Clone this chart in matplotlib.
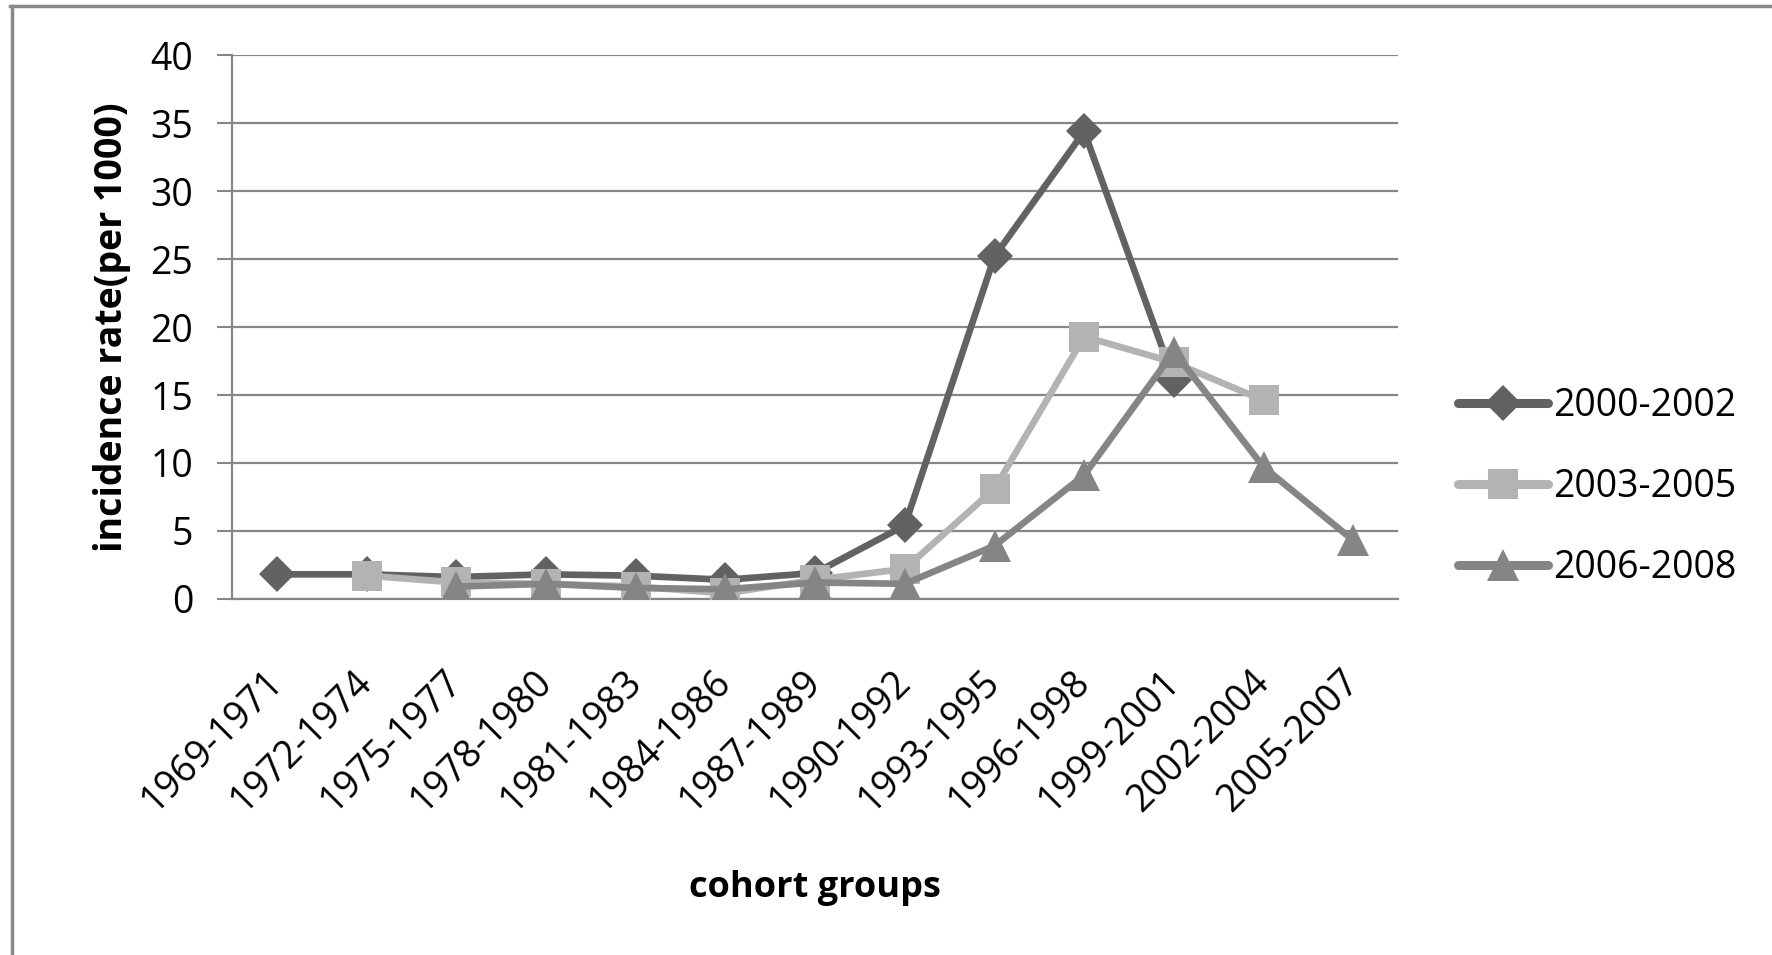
import matplotlib.pyplot as plt
import matplotlib.lines as mlines
import numpy as np

plt.rcParams['font.family'] = ['Open Sans', 'DejaVu Sans']

# cohort groups on the x axis
cohorts = ["1969-1971", "1972-1974", "1975-1977", "1978-1980", "1981-1983",
           "1984-1986", "1987-1989", "1990-1992", "1993-1995", "1996-1998",
           "1999-2001", "2002-2004", "2005-2007"]

# incidence rate (per 1000) per diagnosis period, None where no value
rate_2000_2002 = [1.8, 1.8, 1.6, 1.8, 1.7, 1.4, 1.9, 5.4, 25.2, 34.4, 16.1, None, None]
rate_2003_2005 = [None, 1.7, 1.2, 1.1, 0.9, 0.4, 1.4, 2.2, 8.1, 19.3, 17.4, 14.6, None]
rate_2006_2008 = [None, None, 0.9, 1.1, 0.8, 0.7, 1.2, 1.1, 3.9, 9.1, 18.2, 9.7, 4.3]

series_labels = ["2000-2002", "2003-2005", "2006-2008"]


def to_array(vals):
    return np.array([np.nan if v is None else v for v in vals], dtype=float)


fig = plt.figure(figsize=(17.72, 9.55), dpi=100)
ax = fig.add_axes([0.131, 0.373, 0.658, 0.569])

x = np.arange(len(cohorts))
styles = [
    dict(color="#626262", marker="D", ms=18),
    dict(color="#b3b3b3", marker="s", ms=21),
    dict(color="#858585", marker="^", ms=23),
]
handles = []
for vals, label, st in zip([rate_2000_2002, rate_2003_2005, rate_2006_2008], series_labels, styles):
    line, = ax.plot(x, to_array(vals), color=st["color"], lw=4.8, marker=st["marker"],
                    ms=st["ms"], mfc=st["color"], mec=st["color"], mew=0,
                    solid_joinstyle="miter", label=label, zorder=3)
    handles.append(line)

ax.set_xlim(-0.5, len(cohorts) - 0.5)
ax.set_ylim(0, 40)
ax.set_yticks(np.arange(0, 41, 5))
ax.set_xticks(x)
ax.set_xticklabels(cohorts, rotation=45, ha="right", va="center",
                   rotation_mode="anchor", fontsize=27)
ax.tick_params(axis="x", length=0, pad=56)
ax.tick_params(axis="y", length=11, width=1.5, color="#868686", pad=17, labelsize=27)

ax.grid(axis="y", color="#868686", lw=1.6)
ax.set_axisbelow(True)
for side in ["top", "right"]:
    ax.spines[side].set_visible(False)
ax.spines["left"].set_color("#868686")
ax.spines["left"].set_linewidth(1.6)
ax.spines["bottom"].set_color("#868686")
ax.spines["bottom"].set_linewidth(1.6)

ax.set_ylabel("incidence rate(per 1000)", fontsize=27, fontweight="bold", labelpad=14)
ax.set_xlabel("cohort groups", fontsize=26, fontweight="bold", labelpad=36)

leg = fig.legend(handles=handles, loc="center left", bbox_to_anchor=(0.823, 0.490),
                 frameon=False, fontsize=27, handlelength=2.4, handletextpad=0.12,
                 labelspacing=1.15, borderpad=0, borderaxespad=0)
for h in leg.legend_handles:
    h.set_solid_capstyle("round")
    h.set_linewidth(6.5)

# outer chart frame (left and top edges)
fig.add_artist(mlines.Line2D([0.0065, 0.0065], [0, 0.994], color="#8a8a8a", lw=2.5,
                             transform=fig.transFigure))
fig.add_artist(mlines.Line2D([0.0055, 1.0], [0.994, 0.994], color="#8a8a8a", lw=2.5,
                             transform=fig.transFigure))

fig.savefig("out.png", dpi=100)
